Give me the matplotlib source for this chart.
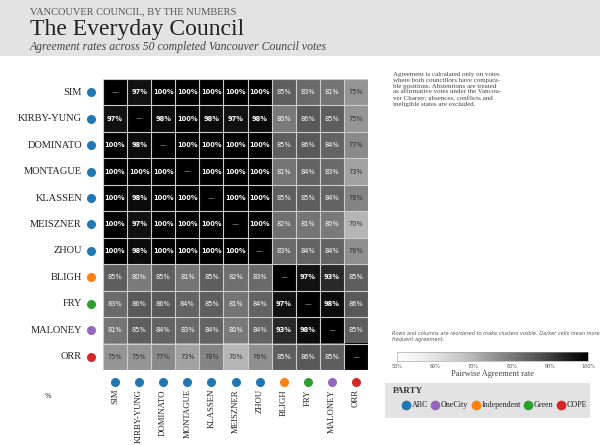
import matplotlib.pyplot as plt
import numpy as np
from matplotlib.patches import Rectangle
from matplotlib.lines import Line2D

names = ["SIM", "KIRBY-YUNG", "DOMINATO", "MONTAGUE", "KLASSEN", "MEISZNER",
         "ZHOU", "BLIGH", "FRY", "MALONEY", "ORR"]
parties = ["ABC"] * 7 + ["Independent", "Green", "OneCity", "COPE"]
party_names = ["ABC", "OneCity", "Independent", "Green", "COPE"]
party_colors = {"ABC": "#1f77b4", "OneCity": "#9467bd", "Independent": "#ff7f0e",
                "Green": "#2ca02c", "COPE": "#d62728"}
rates = [
    [np.nan, 97, 100, 100, 100, 100, 100, 85, 83, 81, 75],
    [97, np.nan, 98, 100, 98, 97, 98, 80, 86, 85, 75],
    [100, 98, np.nan, 100, 100, 100, 100, 85, 86, 84, 77],
    [100, 100, 100, np.nan, 100, 100, 100, 81, 84, 83, 73],
    [100, 98, 100, 100, np.nan, 100, 100, 85, 85, 84, 78],
    [100, 97, 100, 100, 100, np.nan, 100, 82, 81, 80, 70],
    [100, 98, 100, 100, 100, 100, np.nan, 83, 84, 84, 76],
    [85, 80, 85, 81, 85, 82, 83, np.nan, 97, 93, 85],
    [83, 86, 86, 84, 85, 81, 84, 97, np.nan, 98, 86],
    [81, 85, 84, 83, 84, 80, 84, 93, 98, np.nan, 85],
    [75, 75, 77, 73, 78, 70, 76, 85, 86, 85, np.nan],
]

SERIF = "Liberation Serif"
W, H = 600, 445
fig = plt.figure(figsize=(6, 4.45), dpi=100)

def fx(px):
    return px / W

def fy(py):
    return 1 - py / H

def dot(x, y, color, size=6.5):
    fig.lines.append(Line2D([fx(x)], [fy(y)], transform=fig.transFigure, marker="o",
                            markersize=size, color=color, markeredgewidth=0))

# header band
fig.patches.append(Rectangle((0, fy(56)), 1, 56 / H, transform=fig.transFigure,
                             facecolor="#e3e3e3", edgecolor="none", zorder=0))
fig.text(fx(30), fy(12), "VANCOUVER COUNCIL, BY THE NUMBERS", family=SERIF,
         fontsize=7.5, color="#555555", va="center")
fig.text(fx(30), fy(30), "The Everyday Council", family=SERIF, fontsize=17,
         color="#222222", va="center")
fig.text(fx(30), fy(47), "Agreement rates across 50 completed Vancouver Council votes",
         family=SERIF, fontsize=8.5, style="italic", color="#444444", va="center")

# heatmap
data = np.array(rates, dtype=float)
n = len(names)
ax = fig.add_axes([fx(103), fy(370), fx(368) - fx(103), fy(79) - fy(370)])
cmap = plt.get_cmap("Greys").copy()
cmap.set_bad("black")
ax.imshow(np.ma.masked_invalid(data), cmap=cmap, vmin=50, vmax=100, aspect="auto")
for k in range(n + 1):
    ax.axhline(k - 0.5, color="#cccccc", lw=0.8)
    ax.axvline(k - 0.5, color="#cccccc", lw=0.8)
for i in range(n):
    for j in range(n):
        v = data[i, j]
        if np.isnan(v):
            ax.text(j, i, "—", ha="center", va="center", color="#bbbbbb", fontsize=5)
        else:
            col = "white" if v >= 79 else "#333333"
            ax.text(j, i, f"{v:.0f}%", ha="center", va="center", color=col,
                    fontsize=4.8, fontweight="bold" if v >= 88 else "normal")
ax.set_xticks([])
ax.set_yticks([])
for s in ax.spines.values():
    s.set_visible(False)

cell_h = (370 - 79) / n
cell_w = (368 - 103) / n
for i, (nm, p) in enumerate(zip(names, parties)):
    yc = 79 + cell_h * (i + 0.5)
    fig.text(fx(82), fy(yc), nm, family=SERIF, fontsize=7.5, ha="right", va="center",
             color="#222222")
    dot(91, yc, party_colors[p])
    xc = 103 + cell_w * (i + 0.5)
    dot(xc, 382, party_colors[p])
    fig.text(fx(xc), fy(389), nm, family=SERIF, fontsize=6.3, rotation=90, ha="center",
             va="top", color="#222222")
fig.text(fx(45), fy(398), "%", fontsize=5, color="#333333")

# notes
fig.text(fx(393), fy(72),
         "Agreement is calculated only on votes\nwhere both councillors have compara-\n"
         "ble positions. Abstentions are treated\nas affirmative votes under the Vancou-\n"
         "ver Charter; absences, conflicts and\nineligible states are excluded.",
         family=SERIF, fontsize=5, color="#444444", va="top", linespacing=1.2)
fig.text(fx(392), fy(331),
         "Rows and columns are reordered to make clusters visible. Darker cells mean more\n"
         "frequent agreement.", fontsize=3.6, style="italic", color="#555555", va="top")

# colorbar
cax = fig.add_axes([fx(397), fy(361), fx(588) - fx(397), (361 - 352) / H])
cax.imshow(np.linspace(50, 100, 256)[None, :], cmap=cmap, vmin=50, vmax=100,
           aspect="auto", extent=[50, 100, 0, 1])
cax.set_yticks([])
cax.set_xticks([50, 60, 70, 80, 90, 100])
cax.set_xticklabels([f"{t}%" for t in [50, 60, 70, 80, 90, 100]], fontsize=3.5,
                    color="#555555")
cax.tick_params(length=0, pad=2)
for s in cax.spines.values():
    s.set_color("#999999")
    s.set_linewidth(0.4)
cax.set_xlabel("Pairwise Agreement rate", family=SERIF, fontsize=6, color="#444444",
               labelpad=1)

# party legend
fig.patches.append(Rectangle((fx(385), fy(418)), (590 - 385) / W, 35 / H,
                             transform=fig.transFigure, facecolor="#e3e3e3",
                             edgecolor="none"))
fig.text(fx(393), fy(391), "PARTY", family=SERIF, fontsize=6.5, fontweight="bold",
         color="#333333", va="center")
xs = [412, 441, 482, 534, 567]
for x, p in zip(xs, party_names):
    dot(x - 6, 405, party_colors[p], 7)
    fig.text(fx(x), fy(405), p, family=SERIF, fontsize=5.8, color="#222222", va="center")

fig.savefig("out.png", dpi=100)
